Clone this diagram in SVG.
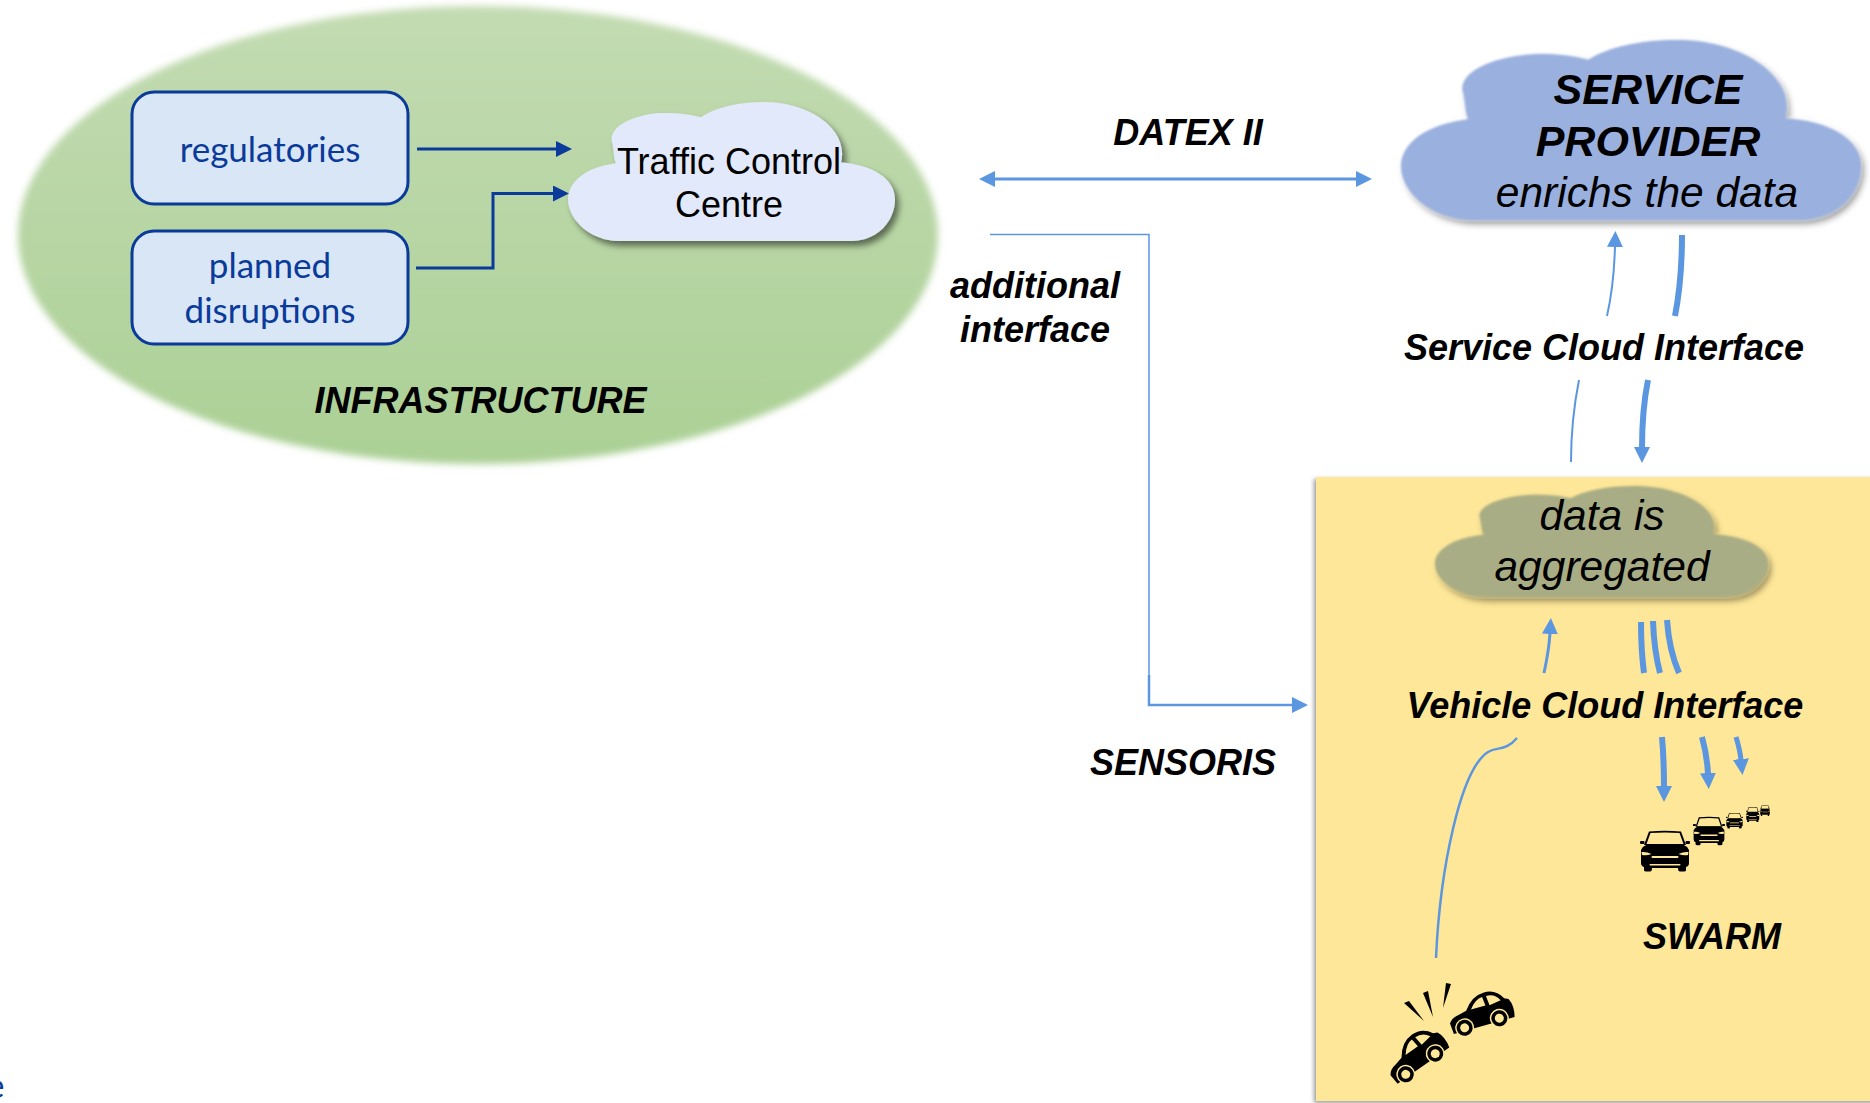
<svg xmlns="http://www.w3.org/2000/svg" width="1870" height="1103" viewBox="0 0 1870 1103">
<style>
text{font-family:"Liberation Sans",Arial,sans-serif;fill:#000;text-anchor:middle}
.bi{font-weight:bold;font-style:italic;font-size:36px}
.i{font-style:italic}
.gs{font-family:Lato,"Open Sans",sans-serif;fill:#0a3a9a;font-size:35px}
.box{fill:#d9e6f6;stroke:#0a3a9a;stroke-width:3}
.navy{fill:none;stroke:#0a3a9a;stroke-width:3}
.blue{fill:none;stroke:#5b96e0}
.y{fill:#fee798}
</style>
<defs>
<linearGradient id="gr" x1="0" y1="0" x2="0" y2="1"><stop offset="0" stop-color="#c3dbb2"/><stop offset="1" stop-color="#abd095"/></linearGradient>
<filter id="soft" x="-5%" y="-5%" width="110%" height="110%"><feGaussianBlur stdDeviation="3.500"/></filter>
<filter id="sh" x="-5%" y="-5%" width="112%" height="115%"><feDropShadow dx="4" dy="5" stdDeviation="3" flood-color="#000" flood-opacity=".5"/></filter>
<filter id="shb" x="-5%" y="-5%" width="112%" height="115%"><feGaussianBlur stdDeviation="1.200" result="b"/><feDropShadow in="b" dx="3" dy="4" stdDeviation="3" flood-color="#000" flood-opacity=".4"/></filter>
<filter id="pan" x="-2%" y="-2%" width="104%" height="104%"><feDropShadow dx="-2" dy="2" stdDeviation="2" flood-color="#000" flood-opacity=".4"/></filter>
<marker id="an" viewBox="0 0 16 16" refX="1" refY="8" markerWidth="16" markerHeight="16" markerUnits="userSpaceOnUse" orient="auto"><path d="M0 0L16 8L0 16Z" fill="#0a3a9a"/></marker>
<marker id="ab" viewBox="0 0 16 16" refX="1" refY="8" markerWidth="16" markerHeight="16" markerUnits="userSpaceOnUse" orient="auto-start-reverse"><path d="M0 0L16 8L0 16Z" fill="#5b96e0"/></marker>
<path id="cloud" d="M15.500 100L86.500 100C95 100 100 85 100 70C100 55 93 45 83.500 43.500C86 20 74 0 60 0C52 0 45 4 40.700 11C36 8 32 7.500 28 8C18 10 12 20 13.600 30C14 36 14 40 14.600 44C5 47 0 58 0 70C0 85 7 100 15.500 100Z"/>
<g id="front">
<path d="M18 1Q50-2 82 1L92 28L8 28Z"/>
<rect x="0" y="20" width="9" height="6" rx="2"/><rect x="91" y="20" width="9" height="6" rx="2"/>
<path d="M2 38Q6 30 14 27L86 27Q94 30 98 38L98 64Q98 70 92 72L92 78Q92 81 86 81L80 81Q76 81 76 74L24 74Q24 81 20 81L14 81Q8 81 8 78L8 72Q2 70 2 64Z"/>
<path class="y" d="M21 4Q50 2 79 4L87 26L13 26Z"/>
<path class="y" d="M3 42Q13 41 23 46Q13 50 4 48Z"/><path class="y" d="M97 42Q87 41 77 46Q87 50 96 48Z"/>
<rect class="y" x="23" y="50" width="54" height="4" rx="2"/><rect class="y" x="19" y="66" width="62" height="3" rx="1.500"/>
</g>
<g id="side">
<path d="M-30 3L-31-8Q-28-13-20-14L-12-16Q-3-29 10-29Q22-29 28-18L32-16Q36-8 33 3Z"/>
<path class="y" d="M-7-16Q0-25 7-25L8-16Z"/><path class="y" d="M11-25Q20-25 24-17L12-15Z"/>
<circle class="y" cx="-18" cy="0" r="9.500"/><circle cx="-18" cy="0" r="8"/><circle class="y" cx="-18" cy="0" r="4.500"/>
<circle class="y" cx="18" cy="0" r="9.500"/><circle cx="18" cy="0" r="8"/><circle class="y" cx="18" cy="0" r="4.500"/>
</g>
</defs>

<text class="gs" x="-14" y="1098" style="text-anchor:start">e</text>

<g id="infrastructure">
<ellipse cx="478" cy="235" rx="460" ry="229" fill="url(#gr)" filter="url(#soft)"/>
<text class="bi" x="480.500" y="413">INFRASTRUCTURE</text>
</g>
<g id="regulatories">
<rect class="box" x="132" y="92" width="276" height="112" rx="22"/>
<text class="gs" x="270" y="162">regulatories</text>
</g>
<g id="planned-disruptions">
<rect class="box" x="132" y="231" width="276" height="113" rx="22"/>
<text class="gs" x="270" y="278">planned</text>
<text class="gs" x="270" y="323">disruptions</text>
</g>
<g id="traffic-control-centre">
<g filter="url(#sh)"><use href="#cloud" transform="translate(568 102) scale(3.270 1.390)" fill="#e2e9fb"/></g>
<text x="729" y="173.500" font-size="36">Traffic Control</text>
<text x="729" y="217" font-size="36">Centre</text>
</g>
<g id="service-provider">
<g filter="url(#shb)"><use href="#cloud" transform="translate(1401 40) scale(4.600 1.800)" fill="#9ab0df"/></g>
<text class="i" x="1648" y="104" font-size="43" font-weight="bold">SERVICE</text>
<text class="i" x="1648" y="156" font-size="43" font-weight="bold">PROVIDER</text>
<text class="i" x="1647" y="207" font-size="42.500">enrichs the data</text>
</g>
<g id="vehicle-panel">
<rect x="1316" y="477" width="560" height="624" fill="#fee798" filter="url(#pan)"/>
</g>
<g id="data-aggregated">
<g filter="url(#shb)"><use href="#cloud" transform="translate(1435 486) scale(3.330 1.110)" fill="#a9ad85"/></g>
<text class="i" x="1602" y="529.500" font-size="42.500">data is</text>
<text class="i" x="1602" y="580.500" font-size="42.500">aggregated</text>
</g>

<g id="connectors">
<path class="navy" d="M417 149H557" marker-end="url(#an)"/>
<path class="navy" d="M416 268H493V193.500H554" marker-end="url(#an)"/>
<path class="blue" stroke-width="3" d="M994 179H1357" marker-start="url(#ab)" marker-end="url(#ab)"/>
<path class="blue" stroke-width="1.500" d="M990 234.500H1149V675"/>
<path class="blue" stroke-width="2.500" d="M1149 675V705H1293" marker-end="url(#ab)"/>
<path class="blue" stroke-width="2" d="M1607 316Q1614 285 1615 246" marker-end="url(#ab)"/>
<path class="blue" stroke-width="6" d="M1682 235Q1682 280 1675 316"/>
<path class="blue" stroke-width="2" d="M1579 380Q1571 420 1571 462"/>
<path class="blue" stroke-width="6" d="M1648 380Q1642 410 1642 448" marker-end="url(#ab)"/>
<path class="blue" stroke-width="3" d="M1544 673Q1549 650 1550 633" marker-end="url(#ab)"/>
<path class="blue" stroke-width="6" d="M1641 622Q1641 650 1644 673"/>
<path class="blue" stroke-width="6" d="M1653 621Q1654 650 1660 673"/>
<path class="blue" stroke-width="6" d="M1667 620Q1669 650 1679 673"/>
<path class="blue" stroke-width="6" d="M1662 737Q1664 760 1664 787" marker-end="url(#ab)"/>
<path class="blue" stroke-width="6" d="M1702 737Q1707 755 1708 774" marker-end="url(#ab)"/>
<path class="blue" stroke-width="5" d="M1736 737Q1740 750 1741 760" marker-end="url(#ab)"/>
<path class="blue" stroke-width="2.500" d="M1517 738C1505 752 1498 746 1488 752C1460 770 1440 870 1436 958"/>
</g>

<text class="bi" x="1188" y="145">DATEX II</text>
<text class="bi" x="1035" y="298">additional</text>
<text class="bi" x="1035" y="342">interface</text>
<text class="bi" x="1183" y="774.500">SENSORIS</text>
<text class="bi" x="1604" y="360">Service Cloud Interface</text>
<text class="bi" x="1605" y="718">Vehicle Cloud Interface</text>
<text class="bi" x="1712" y="949">SWARM</text>

<g id="swarm-cars">
<use href="#front" transform="translate(1640 831) scale(.5)"/>
<use href="#front" transform="translate(1693 817) scale(.32 .35)"/>
<use href="#front" transform="translate(1726 813) scale(.17 .19)"/>
<use href="#front" transform="translate(1746 807) scale(.135 .185)"/>
<use href="#front" transform="translate(1760 805) scale(.1 .135)"/>
</g>
<g id="crash-cars">
<use href="#side" transform="translate(1482 1023) rotate(-15.500)"/>
<use href="#side" transform="translate(1420.500 1064) rotate(-35)"/>
<path d="M1404 1003L1409 1001L1424 1021Z"/>
<path d="M1423 993L1428 991L1433 1017Z"/>
<path d="M1446 983L1451 984L1443 1008Z"/>
</g>
</svg>
